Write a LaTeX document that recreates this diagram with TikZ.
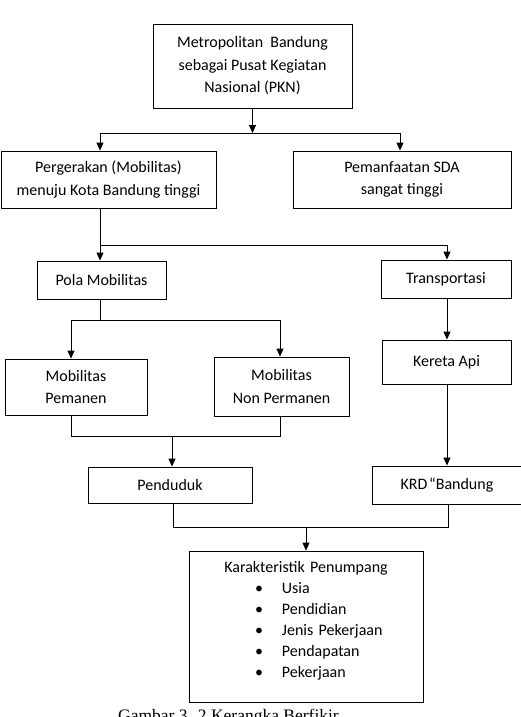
\documentclass[tikz,border=0pt]{standalone}
\usepackage{fontspec}
\setmainfont{Carlito}
\newfontfamily\capfont{Liberation Serif}
\usepackage{tikz}
\usetikzlibrary{arrows.meta}

\tikzset{
  box/.style={draw, line width=0.9pt, align=center, inner sep=2pt,
    font=\fontsize{16}{22.5}\selectfont},
  arr/.style={line width=0.9pt, -{Triangle[width=7pt,length=8pt]}},
  link/.style={line width=0.9pt}
}

\begin{document}
\begin{tikzpicture}[x=1pt,y=-1pt]
\useasboundingbox (0,0) rectangle (521,717);

%% boxes
\node[box, minimum width=199, minimum height=84] (metro) at (252.5,66)
  {Metropolitan\ \ Bandung\\sebagai Pusat Kegiatan\\Nasional (PKN)};
\node[box, minimum width=215, minimum height=57] (gerak) at (108.5,179.5)
  {Pergerakan (Mobilitas)\\menuju Kota Bandung tinggi};
\node[box, minimum width=218, minimum height=57] (sda) at (402,179.5)
  {Pemanfaatan SDA\\sangat tinggi};
\node[box, minimum width=129, minimum height=38] (pola) at (101.5,280) {Pola Mobilitas};
\node[box, minimum width=130, minimum height=38] (trans) at (446,279) {Transportasi};
\node[box, minimum width=142, minimum height=56] (permanen) at (76,387)
  {Mobilitas\\Pemanen};
\node[box, minimum width=135, minimum height=59] (nonperm) at (281.5,386.5)
  {Mobilitas\\Non Permanen};
\node[box, minimum width=129, minimum height=44] (kereta) at (446.5,362) {Kereta Api};
\node[box, minimum width=164, minimum height=36] (penduduk) at (170,485) {Penduduk};
\node[box, minimum width=154, minimum height=38] (krd) at (449,485)
  {KRD \hspace*{-2pt}“Bandung\hspace*{4pt}};
\node[box, minimum width=234, minimum height=151, text width=228, align=left,
  font=\fontsize{16}{21}\selectfont] (karak) at (306,626.5)
  {\makebox[\linewidth]{Karakteristik Penumpang}\\
   \hspace*{63pt}\textbullet\hspace{19pt}Usia\\
   \hspace*{63pt}\textbullet\hspace{19pt}Pendidian\\
   \hspace*{63pt}\textbullet\hspace{19pt}Jenis Pekerjaan\\
   \hspace*{63pt}\textbullet\hspace{19pt}Pendapatan\\
   \hspace*{63pt}\textbullet\hspace{19pt}Pekerjaan\rule[-14pt]{0pt}{1pt}};

%% branch points
\coordinate (s1a) at (100,133);
\coordinate (s1b) at (400,133);
\coordinate (s2a) at (100,245);
\coordinate (s2b) at (447,245);
\coordinate (s3a) at (71,320);
\coordinate (s3b) at (280,320);
\coordinate (s4a) at (71,436);
\coordinate (s4b) at (280,436);
\coordinate (s4c) at (172,436);
\coordinate (s5a) at (173,527);
\coordinate (s5b) at (448,527);
\coordinate (s5c) at (306,527);

%% connectors
\draw[arr] (metro.south) -- (metro.south |- s1a);
\draw[link] (s1a) -- (s1b);
\draw[arr] (s1a) -- (s1a |- gerak.north);
\draw[arr] (s1b) -- (s1b |- sda.north);

\draw[link] (s2a |- gerak.south) -- (s2a) -- (s2b);
\draw[arr] (s2a) -- (s2a |- pola.north);
\draw[arr] (s2b) -- (s2b |- trans.north);

\draw[link] (s2a |- pola.south) -- (s2a |- s3a);
\draw[link] (s3a) -- (s3b);
\draw[arr] (s3a) -- (s3a |- permanen.north);
\draw[arr] (s3b) -- (s3b |- nonperm.north);

\draw[arr] (s2b |- trans.south) -- (s2b |- kereta.north);
\draw[arr] (s2b |- kereta.south) -- (s2b |- krd.north);

\draw[link] (s4a |- permanen.south) -- (s4a) -- (s4b) -- (s4b |- nonperm.south);
\draw[arr] (s4c) -- (s4c |- penduduk.north);

\draw[link] (s5a |- penduduk.south) -- (s5a) -- (s5b) -- (s5b |- krd.south);
\draw[arr] (s5c) -- (s5c |- karak.north);

%% caption (cut off at the bottom)
\node[anchor=base west, inner sep=0pt, font=\capfont\fontsize{17.5}{20}\selectfont]
  (caption) at (118,721.5) {Gambar 3. 2 Kerangka Berfikir};

\end{tikzpicture}
\end{document}
